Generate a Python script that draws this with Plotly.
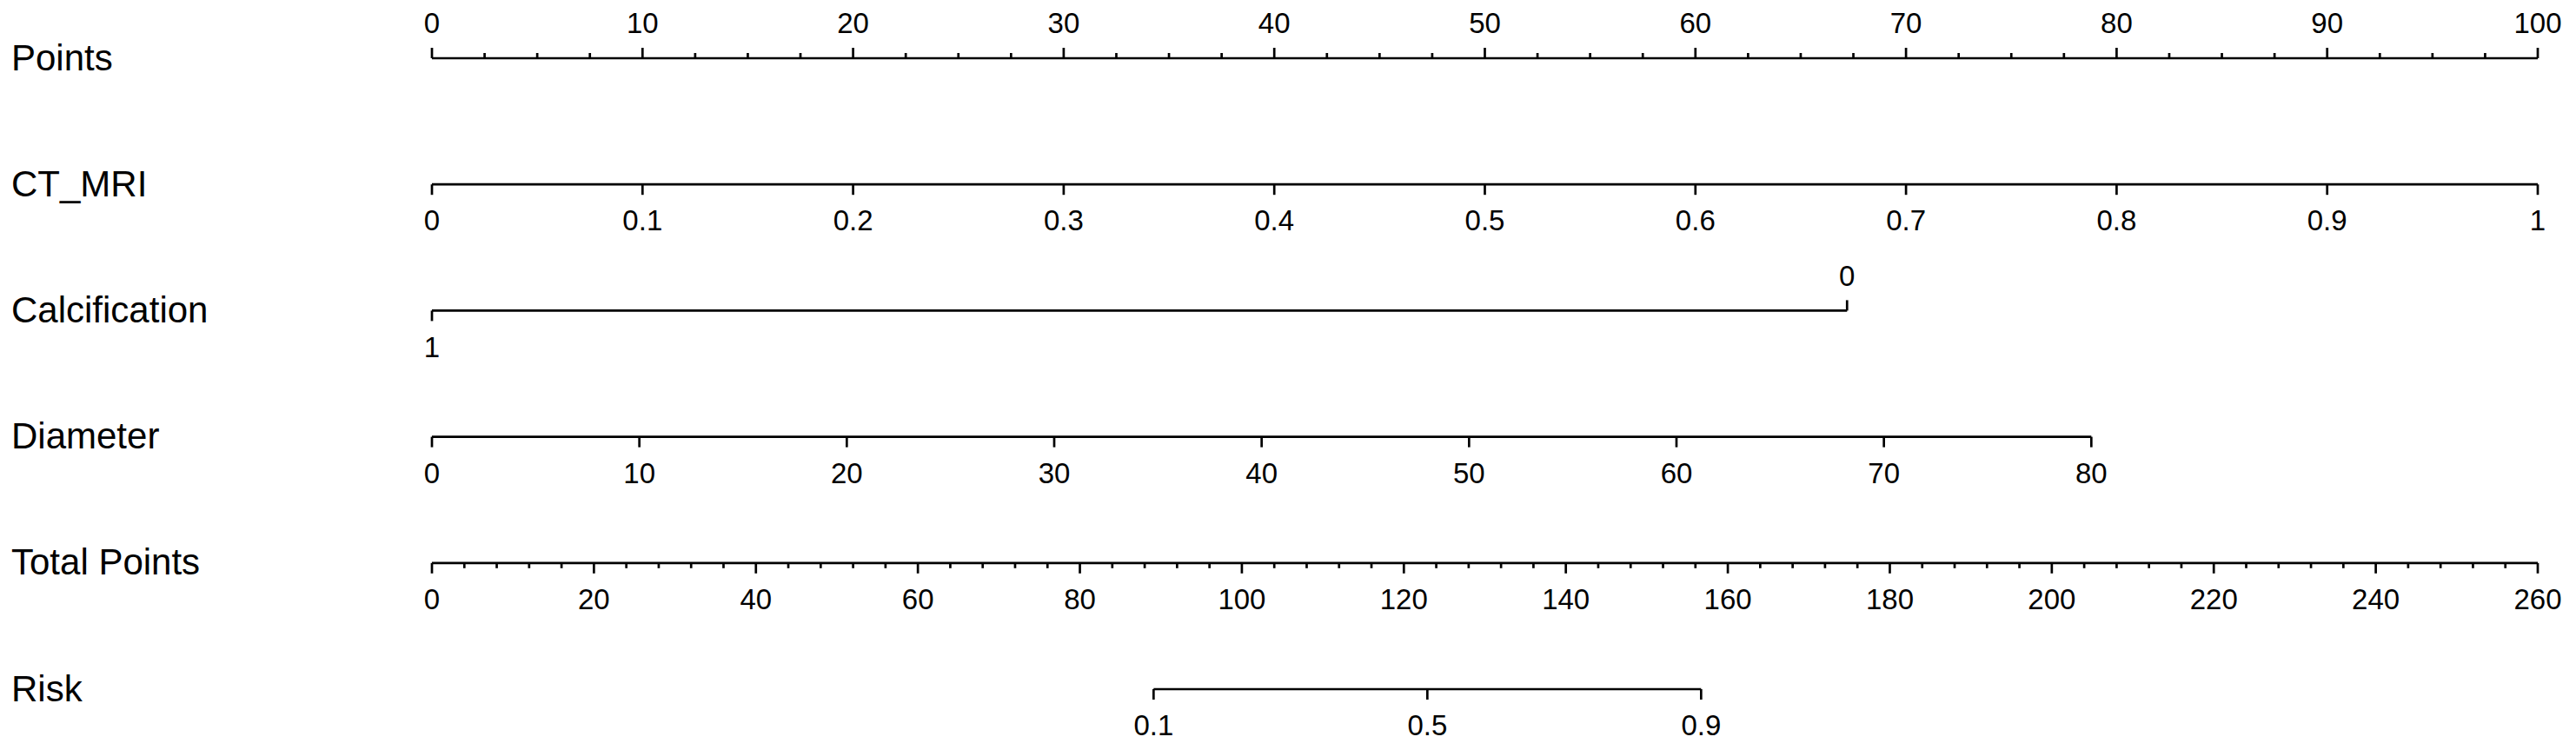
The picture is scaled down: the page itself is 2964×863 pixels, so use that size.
import plotly.graph_objects as go

# nomogram rows (top to bottom)
row_names = ["Points", "CT_MRI", "Calcification", "Diameter", "Total Points", "Risk"]

# Points scale
points_major = [0, 10, 20, 30, 40, 50, 60, 70, 80, 90, 100]
points_minor_step = 2.5

# CT_MRI: 0..1 spans the whole points scale
ct_mri_ticks = [0, 0.1, 0.2, 0.3, 0.4, 0.5, 0.6, 0.7, 0.8, 0.9, 1]
ct_mri_labels = ["0", "0.1", "0.2", "0.3", "0.4", "0.5", "0.6", "0.7", "0.8", "0.9", "1"]
ct_mri_max_points = 100

# Calcification: categorical levels and their points
calc_levels = ["1", "0"]
calc_points = [0, 67.2]

# Diameter
diameter_ticks = [0, 10, 20, 30, 40, 50, 60, 70, 80]
diameter_max_points = 78.8

# Total points
total_major = [0, 20, 40, 60, 80, 100, 120, 140, 160, 180, 200, 220, 240, 260]
total_minor_step = 4
total_max = 260

# Risk
risk_labels = ["0.1", "0.5", "0.9"]
risk_total_points = [89.1, 122.9, 156.7]

# page body has an 8px margin, so the figure is offset by that much
PAD = 8
W, H = 2964 - PAD, 863 - PAD
X0_PX, X100_PX = 497 - PAD, 2920 - PAD
ROW_PX = [y - PAD for y in [67, 213, 356, 503, 646, 793]]
px_per_x = (X100_PX - X0_PX) / 100
px_per_row = (ROW_PX[-1] - ROW_PX[0]) / 5

x_range = [-X0_PX / px_per_x, 100 + (W - X100_PX) / px_per_x]
y_top = -ROW_PX[0] / px_per_row
y_bot = 5 + (H - ROW_PX[-1]) / px_per_row

MAJOR = 12 / px_per_row
MINOR = 6 / px_per_row
OFF_UP = 37 / px_per_row
OFF_DOWN = 45 / px_per_row
NAME_OFF = 3 / px_per_row

FONT = "Liberation Sans, Arial, Helvetica, sans-serif"
LINE = dict(color="black", width=2.7)
TICKFONT = dict(family=FONT, size=33, color="black")

fig = go.Figure()


def add_scale(row, xs, labels, minor_xs=(), up=False):
    """Draw a horizontal scale with ticks at xs (in points units)."""
    sgn = -1 if up else 1
    lx, ly = [min(xs), max(xs), None], [row, row, None]
    for x in xs:
        lx += [x, x, None]
        ly += [row, row + sgn * MAJOR, None]
    for x in minor_xs:
        lx += [x, x, None]
        ly += [row, row + sgn * MINOR, None]
    fig.add_trace(go.Scatter(x=lx, y=ly, mode="lines", line=LINE, cliponaxis=False,
                             hoverinfo="skip", showlegend=False))
    ly_lab = row - OFF_UP if up else row + OFF_DOWN
    fig.add_trace(go.Scatter(x=xs, y=[ly_lab] * len(xs), mode="text", text=labels,
                             textposition="middle center", textfont=TICKFONT,
                             cliponaxis=False, hoverinfo="skip", showlegend=False))


# Points
n_minor = int(100 / points_minor_step)
pts_minor = [i * points_minor_step for i in range(n_minor + 1)]
add_scale(0, points_major, [str(v) for v in points_major],
          minor_xs=[v for v in pts_minor if v not in points_major], up=True)

# CT_MRI
add_scale(1, [v * ct_mri_max_points for v in ct_mri_ticks], ct_mri_labels)

# Calcification: "1" below at left, "0" above at right
lx = [calc_points[0], calc_points[1], None,
      calc_points[0], calc_points[0], None,
      calc_points[1], calc_points[1], None]
ly = [2, 2, None, 2, 2 + MAJOR, None, 2, 2 - MAJOR, None]
fig.add_trace(go.Scatter(x=lx, y=ly, mode="lines", line=LINE,
                         hoverinfo="skip", showlegend=False))
fig.add_trace(go.Scatter(x=calc_points, y=[2 + OFF_DOWN, 2 - OFF_UP], mode="text",
                         text=calc_levels, textposition="middle center",
                         textfont=TICKFONT, hoverinfo="skip", showlegend=False))

# Diameter
d_max = max(diameter_ticks)
add_scale(3, [v / d_max * diameter_max_points for v in diameter_ticks],
          [str(v) for v in diameter_ticks])

# Total Points
n_tminor = int(total_max / total_minor_step)
tot_minor = [i * total_minor_step for i in range(n_tminor + 1)]
add_scale(4, [v / total_max * 100 for v in total_major], [str(v) for v in total_major],
          minor_xs=[v / total_max * 100 for v in tot_minor if v not in total_major])

# Risk
add_scale(5, [v / total_max * 100 for v in risk_total_points], risk_labels)

# row names
fig.add_trace(go.Scatter(x=[x_range[0] + (13 - PAD) / px_per_x] * len(row_names),
                         y=[i + NAME_OFF for i in range(len(row_names))],
                         mode="text", text=row_names, textposition="middle right",
                         textfont=dict(family=FONT, size=42, color="black"),
                         hoverinfo="skip", showlegend=False))

fig.update_xaxes(range=x_range, visible=False, showgrid=False, zeroline=False)
fig.update_yaxes(range=[y_bot, y_top], visible=False, showgrid=False, zeroline=False)
fig.update_layout(width=W, height=H, margin=dict(l=0, r=0, t=0, b=0),
                  paper_bgcolor="white", plot_bgcolor="white")

fig.write_html("out.html")
